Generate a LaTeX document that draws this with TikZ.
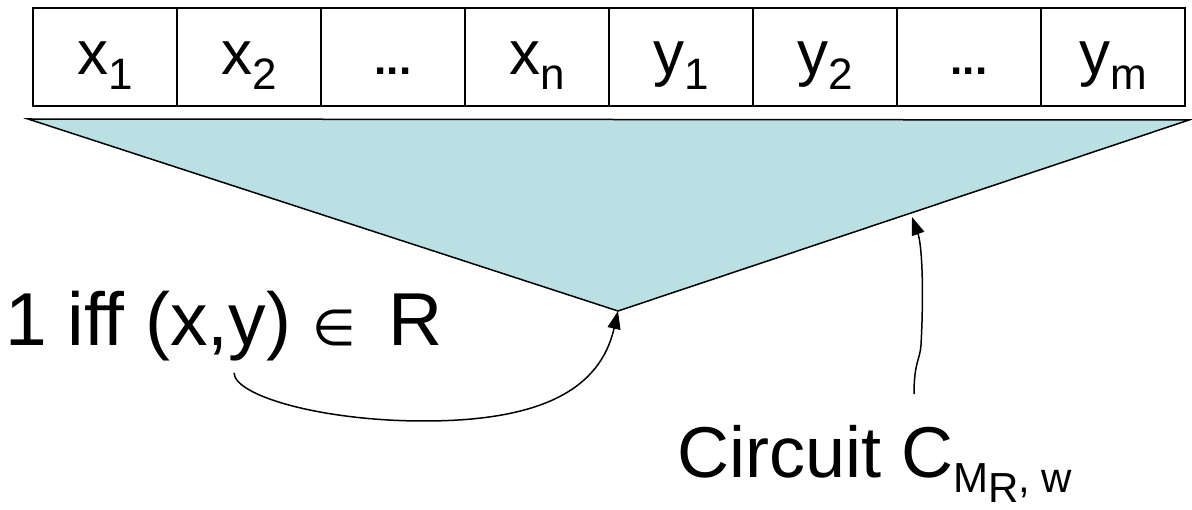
\documentclass[tikz,border=0pt]{standalone}
\usepackage{fontspec}
\setmainfont{Liberation Sans}
\newfontfamily\symbolfont{DejaVu Sans}
\usetikzlibrary{arrows.meta}
\definecolor{trifill}{RGB}{186,224,228}
\newcommand\cellsub[1]{\raisebox{-15pt}{\fontsize{44}{44}\selectfont #1}}
\newcommand\celldots{{\fontsize{44}{44}\selectfont\bfseries ...}}
\begin{document}
\begin{tikzpicture}[x=1pt,y=-1pt,
  cell/.style={draw, line width=2pt, minimum width=144pt, minimum height=98pt,
    inner sep=0pt, text height=50pt, text depth=14pt,
    font=\fontsize{62}{62}\selectfont},
  lbl/.style={anchor=base west, inner sep=0pt, font=\fontsize{72}{80}\selectfont},
  tri/.style={draw, line width=1.5pt, fill=trifill, line join=miter},
  arr/.style={line width=1.5pt, -{Triangle[length=18pt,width=13pt]}}]
\useasboundingbox (0,0) rectangle (1192,510);
% triangle (circuit)
\coordinate (tl) at (28,119);
\coordinate (tr) at (1189,120);
\coordinate (apex) at (618,311);
\coordinate (edge) at (912,217);
\draw[tri] (tl) -- (tr) -- (apex) -- cycle;
% input cells
\node[cell] (c1) at (105,57) {x\cellsub{1}};
\node[cell] (c2) at (249,57) {x\cellsub{2}};
\node[cell] (c3) at (393,57) {\celldots};
\node[cell] (c4) at (537,57) {x\cellsub{n}};
\node[cell] (c5) at (681,57) {y\cellsub{1}};
\node[cell] (c6) at (825,57) {y\cellsub{2}};
\node[cell] (c7) at (969,57) {\celldots};
\node[cell] (c8) at (1113,57) {y\cellsub{m}};
% labels
\node[lbl, font=\fontsize{75}{80}\selectfont] (out) at (5,346)
  {1 iff (x,y) {\symbolfont\fontsize{50}{50}\selectfont ∈}\hspace{12pt} R};
\node[lbl] (circ) at (677,478) {Circuit C\raisebox{-15pt}{\fontsize{42}{42}\selectfont M\raisebox{-10pt}{R}, w}};
\coordinate (outy) at (234,373);
\coordinate (circtop) at (914,394);
% connectors
\draw[arr] (outy) .. controls (235,396) and (322,421) .. (424,421)
  .. controls (540,421) and (600,390) .. (apex);
\draw[arr] (circtop) .. controls (914,362) and (920,360) .. (921,345)
  .. controls (924,290) and (922,245) .. (edge);
\end{tikzpicture}
\end{document}
